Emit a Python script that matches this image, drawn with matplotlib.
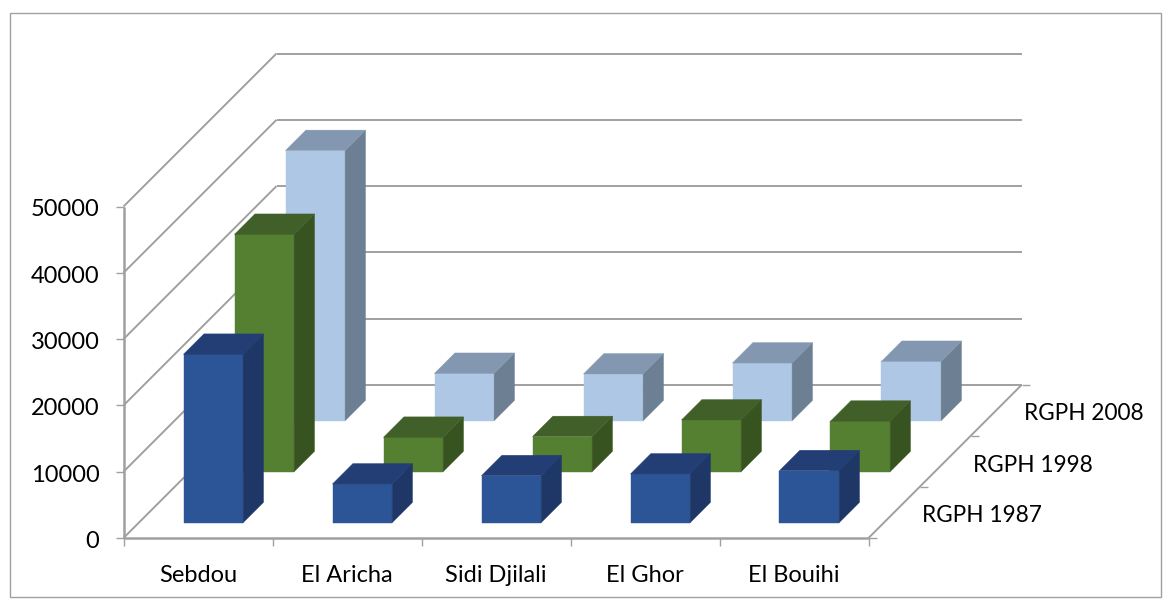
import matplotlib
matplotlib.use("Agg")
import matplotlib.pyplot as plt
from matplotlib.patches import Polygon, Rectangle

categories = ["Sebdou", "El Aricha", "Sidi Djilali", "El Ghor", "El Bouihi"]
series_names = ["RGPH 1987", "RGPH 1998", "RGPH 2008"]
rgph_1987 = [25400, 5840, 7090, 7350, 7850]
rgph_1998 = [35800, 5190, 5300, 7800, 7620]
rgph_2008 = [40750, 7140, 7050, 8700, 8950]
value_ticks = [0, 10000, 20000, 30000, 40000, 50000]

series_values = [rgph_1987, rgph_1998, rgph_2008]
series_colors = [
    ("#2C5597", "#223E74", "#1E3766"),
    ("#558032", "#416029", "#375320"),
    ("#ADC7E5", "#8398B0", "#6D7F93"),
]

plt.rcParams["font.family"] = ["Lato", "DejaVu Sans"]
W, H = 1171, 608
fig = plt.figure(figsize=(W / 100, H / 100), dpi=100)
ax = fig.add_axes([0, 0, 1, 1])
ax.set_xlim(0, W)
ax.set_ylim(H, 0)
ax.axis("off")

X0, Y0 = 123.5, 538.0
CAT_W, DEPTH, V_SCALE = 149.0, 51.0, 66.3 / 10000
GRID = "#A0A0A0"
FS = 17
FS_SERIES = 16.3


def proj(c, s, v=0.0):
    """Oblique projection: category position, series depth, value -> canvas."""
    return X0 + CAT_W * c + DEPTH * s, Y0 - DEPTH * s - V_SCALE * v


def line(p, q, **kw):
    ax.plot([p[0], q[0]], [p[1], q[1]], color=GRID, lw=kw.get("lw", 1.4),
            solid_capstyle="butt", zorder=kw.get("zorder", 1))


n = len(categories)
m = len(series_names)
top_value = value_ticks[-1]

ax.add_patch(Rectangle((10, 12.5), 1151, 584.5, fill=False, ec="#A0A0A0", lw=1.0, zorder=0))

# walls and gridlines
for v in value_ticks:
    line(proj(0, 0, v), proj(0, m, v))
    line(proj(0, m, v), proj(n, m, v))
    a = proj(0, 0, v)
    line((a[0] - 8, a[1]), a, lw=1.0)
    ax.text(99.5, a[1] + 1.3, str(v), ha="right", va="center_baseline", fontsize=FS, color="black")
line(proj(0, 0, 0), proj(0, 0, top_value), lw=1.8)

# floor
line(proj(0, 0), proj(n, 0), lw=1.8)
line(proj(n, 0), proj(n, m))
for c in range(n + 1):
    a = proj(c, 0)
    line(a, (a[0], a[1] + 8), lw=1.0)
for s in range(m + 1):
    a = proj(n, s)
    line(a, (a[0] + 8, a[1]), lw=1.0)

# bars, back to front
GAP_C, GAP_S = 0.30, 0.30
for s in reversed(range(m)):
    front, top, side = series_colors[s]
    for c in range(n):
        v = series_values[s][c]
        c0, c1 = c + GAP_C, c + 1 - GAP_C
        s0, s1 = s + GAP_S, s + 1 - GAP_S
        z = 10 + (m - s) * 10
        ax.add_patch(Polygon([proj(c0, s0, 0), proj(c1, s0, 0), proj(c1, s0, v), proj(c0, s0, v)],
                             closed=True, fc=front, ec=front, lw=0.3, zorder=z))
        ax.add_patch(Polygon([proj(c1, s0, 0), proj(c1, s1, 0), proj(c1, s1, v), proj(c1, s0, v)],
                             closed=True, fc=side, ec=side, lw=0.3, zorder=z))
        ax.add_patch(Polygon([proj(c0, s0, v), proj(c1, s0, v), proj(c1, s1, v), proj(c0, s1, v)],
                             closed=True, fc=top, ec=top, lw=0.3, zorder=z))

# labels
for c, name in enumerate(categories):
    x = proj(c + 0.5, 0)[0]
    ax.text(x, 574, name, ha="center", va="center_baseline", fontsize=FS, color="black")
for s, name in enumerate(series_names):
    a = proj(n, s + 0.5)
    ax.text(a[0] + 28, a[1] + 1.5, name, ha="left", va="center_baseline", fontsize=FS_SERIES, color="black")

fig.savefig("out.png", dpi=100, facecolor="white")
